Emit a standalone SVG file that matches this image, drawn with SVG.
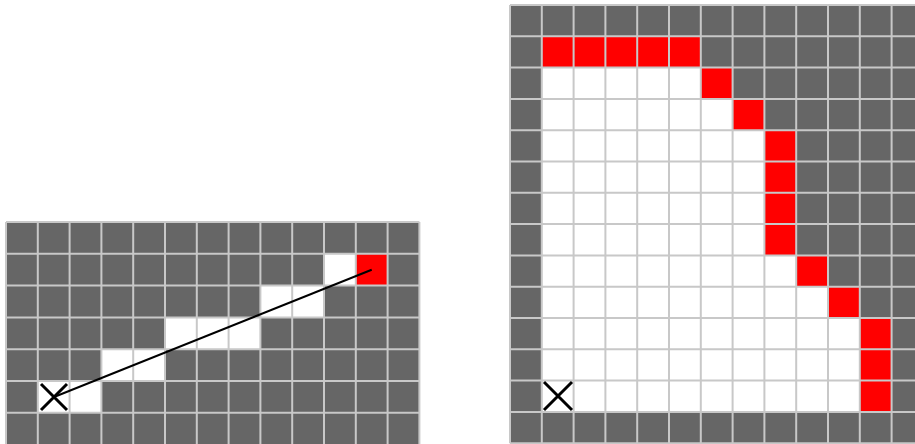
<svg xmlns="http://www.w3.org/2000/svg" width="915" height="444" viewBox="0 0 915 444">
<style>
.bg{fill:#666666}
.w{fill:#ffffff}
.r{fill:#ff0000}
.grid{stroke:#c8c8c8;stroke-width:2;fill:none}
.x{stroke:#000;stroke-width:3;fill:none}
.conn{stroke:#000;stroke-width:2;fill:none}
</style>
<rect width="915" height="444" fill="#ffffff"/>
<g id="left-grid">
<rect class="bg" x="6" y="222" width="413.4" height="222.6"/>
<rect class="w" x="324" y="253.8" width="31.8" height="31.8"/>
<rect class="w" x="260.4" y="285.6" width="63.6" height="31.8"/>
<rect class="w" x="165" y="317.4" width="95.4" height="31.8"/>
<rect class="w" x="101.4" y="349.2" width="63.6" height="31.8"/>
<rect class="w" x="37.8" y="381" width="63.6" height="31.8"/>
<rect class="r" x="355.8" y="253.8" width="31.8" height="31.8"/>
<path class="grid" d="M6 222V444.6M37.8 222V444.6M69.6 222V444.6M101.4 222V444.6M133.2 222V444.6M165 222V444.6M196.8 222V444.6M228.6 222V444.6M260.4 222V444.6M292.2 222V444.6M324 222V444.6M355.8 222V444.6M387.6 222V444.6M419.4 222V444.6M6 222H419.4M6 253.8H419.4M6 285.6H419.4M6 317.4H419.4M6 349.2H419.4M6 381H419.4M6 412.8H419.4"/>
</g>
<g id="left-start">
<path class="x" d="M41 384L67 410M67 384L41 410"/>
</g>
<g id="connectors">
<line class="conn" x1="54" y1="397" x2="371.7" y2="269.7"/>
</g>
<g id="right-grid">
<rect class="bg" x="510" y="5" width="413.4" height="438.2"/>
<rect class="w" x="541.8" y="67.6" width="159" height="344.3"/>
<rect class="w" x="700.8" y="98.9" width="31.8" height="313"/>
<rect class="w" x="732.6" y="130.2" width="31.8" height="281.7"/>
<rect class="w" x="764.4" y="255.4" width="31.8" height="156.5"/>
<rect class="w" x="796.2" y="286.7" width="31.8" height="125.2"/>
<rect class="w" x="828" y="318" width="31.8" height="93.9"/>
<rect class="r" x="541.8" y="36.3" width="159" height="31.3"/>
<rect class="r" x="700.8" y="67.6" width="31.8" height="31.3"/>
<rect class="r" x="732.6" y="98.9" width="31.8" height="31.3"/>
<rect class="r" x="764.4" y="130.2" width="31.8" height="125.2"/>
<rect class="r" x="796.2" y="255.4" width="31.8" height="31.3"/>
<rect class="r" x="828" y="286.7" width="31.8" height="31.3"/>
<rect class="r" x="859.8" y="318" width="31.8" height="93.9"/>
<path class="grid" d="M510 5V443.2M541.8 5V443.2M573.6 5V443.2M605.4 5V443.2M637.2 5V443.2M669 5V443.2M700.8 5V443.2M732.6 5V443.2M764.4 5V443.2M796.2 5V443.2M828 5V443.2M859.8 5V443.2M891.6 5V443.2M510 5H923M510 36.3H923M510 67.6H923M510 98.9H923M510 130.2H923M510 161.5H923M510 192.8H923M510 224.1H923M510 255.4H923M510 286.7H923M510 318H923M510 349.3H923M510 380.6H923M510 411.9H923M510 443.2H923"/>
</g>
<g id="right-start">
<path class="x" d="M544 382L572 410M572 382L544 410"/>
</g>
</svg>
